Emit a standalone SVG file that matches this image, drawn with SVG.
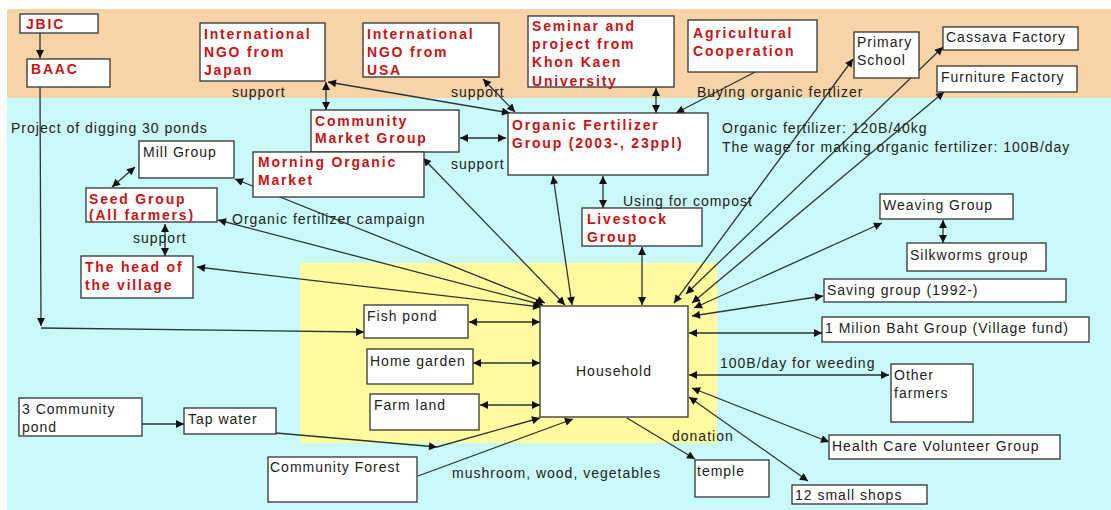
<svg xmlns="http://www.w3.org/2000/svg" width="1111" height="510" viewBox="0 0 1111 510">
<style>
.bx{fill:#fff;stroke:#333;stroke-width:1.3}
.r{font-family:"Liberation Sans",Arial,sans-serif;font-size:14px;font-weight:bold;letter-spacing:1.8px;fill:#c81414}
.t{font-family:"Liberation Sans",Arial,sans-serif;font-size:14px;letter-spacing:1px;fill:#222}
.c line{stroke:#2b3535;stroke-width:1.3;fill:none}
.e{marker-end:url(#a)}
.b{marker-start:url(#a);marker-end:url(#a)}
</style>
<defs>
<marker id="a" viewBox="0 0 10 10" refX="10" refY="5" markerWidth="9" markerHeight="8" markerUnits="userSpaceOnUse" orient="auto-start-reverse">
<path d="M0,0 L10,5 L0,10 z" fill="#111"/>
</marker>
</defs>
<rect x="0" y="0" width="1111" height="510" fill="#fff"/>
<rect x="7" y="9" width="1104" height="89" fill="#f9d3a8"/>
<rect x="7" y="98" width="1104" height="412" fill="#c9f9f9"/>
<rect x="300" y="263" width="417" height="180" fill="#fffb9e"/>

<g class="c" id="connectors">
<line class="e" x1="40" y1="33" x2="40" y2="58"/>
<line class="e" x1="40" y1="87" x2="41" y2="326"/>
<line class="e" x1="41" y1="328" x2="364" y2="332"/>
<line class="b" x1="326" y1="82" x2="326" y2="110"/>
<line class="b" x1="328" y1="82" x2="510" y2="113"/>
<line class="b" x1="483" y1="79" x2="515" y2="112"/>
<line class="b" x1="656" y1="88" x2="656" y2="113"/>
<line class="e" x1="755" y1="72" x2="676" y2="113"/>
<line class="b" x1="460" y1="138" x2="506" y2="138"/>
<line class="b" x1="603" y1="176" x2="603" y2="208"/>
<line class="b" x1="642" y1="247" x2="642" y2="305"/>
<line class="b" x1="553" y1="176" x2="572" y2="305"/>
<line class="b" x1="423" y1="158" x2="565" y2="305"/>
<line class="b" x1="235" y1="179" x2="545" y2="303"/>
<line class="b" x1="218" y1="220" x2="543" y2="305"/>
<line class="b" x1="197" y1="267" x2="541" y2="307"/>
<line class="b" x1="135" y1="167" x2="112" y2="187"/>
<line class="b" x1="165" y1="224" x2="165" y2="256"/>
<line class="b" x1="469" y1="322" x2="540" y2="322"/>
<line class="b" x1="473" y1="363" x2="540" y2="363"/>
<line class="b" x1="480" y1="405" x2="540" y2="405"/>
<line class="e" x1="276" y1="433" x2="437" y2="447"/>
<line class="e" x1="437" y1="447" x2="540" y2="418"/>
<line class="e" x1="142" y1="424" x2="184" y2="424"/>
<line class="e" x1="418" y1="476" x2="573" y2="419"/>
<line class="e" x1="627" y1="418" x2="695" y2="459"/>
<line class="b" x1="689" y1="397" x2="808" y2="481"/>
<line class="b" x1="692" y1="388" x2="829" y2="442"/>
<line class="b" x1="689" y1="375" x2="889" y2="375"/>
<line class="b" x1="689" y1="333" x2="822" y2="333"/>
<line class="b" x1="692" y1="316" x2="823" y2="296"/>
<line class="b" x1="694" y1="308" x2="882" y2="223"/>
<line class="b" x1="692" y1="303" x2="944" y2="92"/>
<line class="b" x1="686" y1="294" x2="943" y2="47"/>
<line class="b" x1="674" y1="303" x2="853" y2="59"/>
<line class="b" x1="943" y1="220" x2="943" y2="243"/>
</g>

<g id="jbic"><rect class="bx" x="20" y="14" width="78" height="19"/><text class="r" x="26" y="29">JBIC</text></g>
<g id="baac"><rect class="bx" x="27" y="59" width="83" height="28"/><text class="r" x="31" y="74">BAAC</text></g>
<g id="ngo-japan"><rect class="bx" x="200" y="23" width="125" height="58"/><text class="r" x="204" y="39">International</text><text class="r" x="204" y="57">NGO from</text><text class="r" x="204" y="75">Japan</text></g>
<g id="ngo-usa"><rect class="bx" x="363" y="23" width="136" height="54"/><text class="r" x="367" y="39">International</text><text class="r" x="367" y="57">NGO from</text><text class="r" x="367" y="75">USA</text></g>
<g id="seminar"><rect class="bx" x="528" y="16" width="146" height="71"/><text class="r" x="532" y="31">Seminar and</text><text class="r" x="532" y="49">project from</text><text class="r" x="532" y="67">Khon Kaen</text><text class="r" x="532" y="86">University</text></g>
<g id="agri"><rect class="bx" x="688" y="20" width="129" height="52"/><text class="r" x="693" y="38">Agricultural</text><text class="r" x="693" y="56">Cooperation</text></g>
<g id="primary"><rect class="bx" x="854" y="32" width="65" height="46"/><text class="t" x="857" y="47">Primary</text><text class="t" x="857" y="65">School</text></g>
<g id="cassava"><rect class="bx" x="943" y="27" width="135" height="23"/><text class="t" x="946" y="42">Cassava Factory</text></g>
<g id="furniture"><rect class="bx" x="937" y="66" width="140" height="26"/><text class="t" x="941" y="82">Furniture Factory</text></g>
<g id="community-market"><rect class="bx" x="311" y="110" width="148" height="42"/><text class="r" x="315" y="126">Community</text><text class="r" x="315" y="143">Market Group</text></g>
<g id="morning-market"><rect class="bx" x="253" y="152" width="171" height="45"/><text class="r" x="258" y="167">Morning Organic</text><text class="r" x="258" y="185">Market</text></g>
<g id="organic-fert"><rect class="bx" x="508" y="113" width="200" height="62"/><text class="r" x="512" y="130">Organic Fertilizer</text><text class="r" x="512" y="148">Group (2003-, 23ppl)</text></g>
<g id="mill"><rect class="bx" x="139" y="141" width="95" height="37"/><text class="t" x="143" y="157">Mill Group</text></g>
<g id="seed"><rect class="bx" x="86" y="188" width="131" height="34"/><text class="r" x="89" y="204">Seed Group</text><text class="r" x="89" y="220">(All farmers)</text></g>
<g id="head"><rect class="bx" x="81" y="256" width="112" height="42"/><text class="r" x="85" y="272">The head of</text><text class="r" x="85" y="290">the village</text></g>
<g id="livestock"><rect class="bx" x="582" y="208" width="120" height="38"/><text class="r" x="587" y="224">Livestock</text><text class="r" x="587" y="242">Group</text></g>
<g id="weaving"><rect class="bx" x="880" y="194" width="133" height="25"/><text class="t" x="883" y="210">Weaving Group</text></g>
<g id="silkworms"><rect class="bx" x="907" y="243" width="139" height="28"/><text class="t" x="910" y="260">Silkworms group</text></g>
<g id="saving"><rect class="bx" x="824" y="279" width="242" height="23"/><text class="t" x="827" y="295">Saving group (1992-)</text></g>
<g id="million"><rect class="bx" x="822" y="317" width="267" height="25"/><text class="t" x="825" y="333">1 Milion Baht Group (Village fund)</text></g>
<g id="fish"><rect class="bx" x="364" y="305" width="104" height="33"/><text class="t" x="367" y="321">Fish pond</text></g>
<g id="home-garden"><rect class="bx" x="367" y="349" width="106" height="35"/><text class="t" x="370" y="366">Home garden</text></g>
<g id="farm"><rect class="bx" x="370" y="394" width="109" height="36"/><text class="t" x="374" y="410">Farm land</text></g>
<g id="household"><rect class="bx" x="540" y="306" width="148" height="111"/><text class="t" x="576" y="376">Household</text></g>
<g id="other-farmers"><rect class="bx" x="891" y="364" width="82" height="58"/><text class="t" x="894" y="380">Other</text><text class="t" x="894" y="398">farmers</text></g>
<g id="health"><rect class="bx" x="829" y="435" width="231" height="24"/><text class="t" x="832" y="451">Health Care Volunteer Group</text></g>
<g id="shops"><rect class="bx" x="792" y="485" width="135" height="19"/><text class="t" x="795" y="500">12 small shops</text></g>
<g id="temple"><rect class="bx" x="695" y="460" width="74" height="37"/><text class="t" x="697" y="476">temple</text></g>
<g id="community-pond"><rect class="bx" x="19" y="398" width="123" height="38"/><text class="t" x="22" y="414">3 Community</text><text class="t" x="22" y="432">pond</text></g>
<g id="tap"><rect class="bx" x="184" y="408" width="92" height="26"/><text class="t" x="188" y="424">Tap water</text></g>
<g id="forest"><rect class="bx" x="268" y="457" width="149" height="45"/><text class="t" x="270" y="472">Community Forest</text></g>

<g id="labels">
<text class="t" x="232" y="97">support</text>
<text class="t" x="451" y="97">support</text>
<text class="t" x="697" y="97">Buying organic fertlizer</text>
<text class="t" x="11" y="133">Project of digging 30 ponds</text>
<text class="t" x="451" y="169">support</text>
<text class="t" x="722" y="133">Organic fertilizer: 120B/40kg</text>
<text class="t" x="722" y="152">The wage for making organic fertilizer: 100B/day</text>
<text class="t" x="623" y="206">Using for compost</text>
<text class="t" x="232" y="224">Organic fertilizer campaign</text>
<text class="t" x="133" y="243">support</text>
<text class="t" x="720" y="368">100B/day for weeding</text>
<text class="t" x="672" y="441">donation</text>
<text class="t" x="452" y="478">mushroom, wood, vegetables</text>
</g>
</svg>
